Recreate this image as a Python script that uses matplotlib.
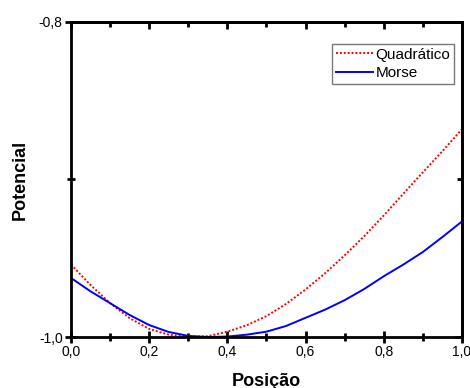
import matplotlib
matplotlib.use("Agg")
import matplotlib.pyplot as plt
from matplotlib.ticker import MultipleLocator, FuncFormatter

plt.rcParams['font.family'] = ['Liberation Sans', 'DejaVu Sans']

x = [0.00, 0.05, 0.10, 0.15, 0.20, 0.25, 0.30, 0.35, 0.40, 0.45, 0.50,
     0.55, 0.60, 0.65, 0.70, 0.75, 0.80, 0.85, 0.90, 0.95, 1.00]
quadratico = [-0.954, -0.967, -0.9785, -0.988, -0.9949, -0.9985, -0.9998, -0.9995,
              -0.9966, -0.9925, -0.9867, -0.979, -0.9698, -0.9595, -0.9481, -0.936,
              -0.9228, -0.909, -0.8954, -0.882, -0.868]
morse = [-0.9625, -0.971, -0.9785, -0.986, -0.9924, -0.9968, -0.9993, -1.0,
         -0.9997, -0.9985, -0.9966, -0.993, -0.9878, -0.9826, -0.9766, -0.9695,
         -0.9614, -0.954, -0.946, -0.9365, -0.9266]

fig = plt.figure(figsize=(4.70, 3.88), dpi=100)
rect = [0.151, 0.1314, 0.832, 0.8120]
ax = fig.add_axes(rect)

ax.plot(x, quadratico, color='red', linestyle=(0, (1, 1)), linewidth=1.4, label='Quadrático')
ax.plot(x, morse, color='blue', linestyle='-', linewidth=1.4, label='Morse')

ax.set_xlim(0, 1.0)
ax.set_ylim(-1.0, -0.8)

fmt = FuncFormatter(lambda v, p: f"{v:.1f}".replace('.', ','))
ax.xaxis.set_major_locator(MultipleLocator(0.2))
ax.xaxis.set_minor_locator(MultipleLocator(0.1))
ax.yaxis.set_major_locator(MultipleLocator(0.2))
ax.yaxis.set_minor_locator(MultipleLocator(0.1))
ax.xaxis.set_major_formatter(fmt)
ax.yaxis.set_major_formatter(fmt)

for s in ax.spines.values():
    s.set_linewidth(2)

ax.tick_params(axis='both', which='major', labelsize=10, width=2, length=8,
               direction='inout', pad=2)
ax.tick_params(axis='both', which='minor', width=2, length=6, direction='inout')

# top and right axes with inward ticks
top = ax.secondary_xaxis('top')
top.xaxis.set_major_locator(MultipleLocator(0.2))
top.xaxis.set_minor_locator(MultipleLocator(0.1))
top.tick_params(which='major', direction='in', length=5, width=2, labeltop=False)
top.tick_params(which='minor', direction='in', length=3.5, width=2)
top.spines['top'].set_linewidth(2)
right = ax.secondary_yaxis('right')
right.yaxis.set_major_locator(MultipleLocator(0.2))
right.yaxis.set_minor_locator(MultipleLocator(0.1))
right.tick_params(which='major', direction='in', length=5, width=2, labelright=False)
right.tick_params(which='minor', direction='in', length=3.5, width=2)
right.spines['right'].set_linewidth(2)

ax.set_xlabel('Posição', fontsize=13, fontweight='bold', labelpad=9.5)
ax.set_ylabel('Potencial', fontsize=13, fontweight='bold', labelpad=7)

leg = ax.legend(loc='upper right', bbox_to_anchor=(0.98, 0.93), fontsize=11,
                frameon=True, fancybox=False, handlelength=2.4, handletextpad=0.2,
                borderpad=0.25, labelspacing=0.3, borderaxespad=0.0)
leg.get_frame().set_edgecolor('#555555')
leg.get_frame().set_linewidth(1.0)

fig.savefig('out.png', dpi=100)
